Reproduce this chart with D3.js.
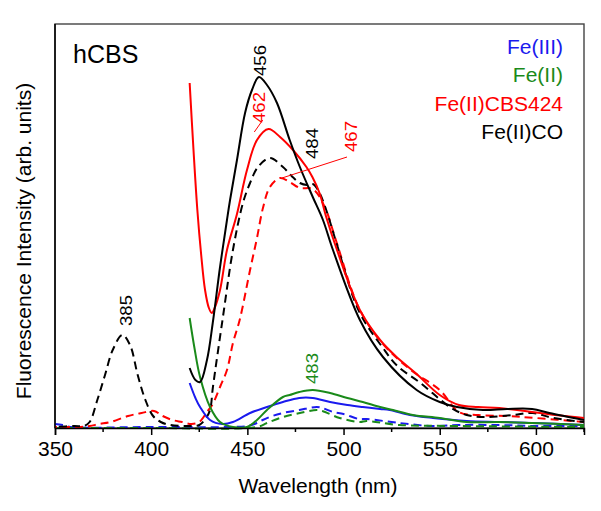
<!DOCTYPE html>
<html>
<head>
<meta charset="utf-8">
<script src="https://cdn.jsdelivr.net/npm/d3@7"></script>
<style>
  body { margin: 0; background: #fff; }
  text { font-family: "Liberation Sans", Arial, sans-serif; }
</style>
</head>
<body>
<div id="chart"></div>
<script>
// wavelength (nm), intensity (arb. units)
var feIIIsolid = [[420,45],[423,30],[425.4,21],[430.6,8],[437,4],[442.5,6],[451.4,15],[460.2,21],[468.5,26],[477,30],[484,30],[493,26],[502,23],[510,21],[519,19],[524,18],[534.5,13],[546.5,10],[564,7],[581,6],[598,5],[625,3]];
var feIIsolid = [[420,110],[422.5,80],[425.4,51],[430.6,21],[435.8,6],[442.5,1],[449.8,1],[455,8],[460.2,18],[468.5,31],[472,33],[477,36],[484,38],[493,35],[502,30],[510,26],[519,21],[525.7,18],[536,13],[550,10],[564,6],[581,6],[598,5],[625,3]];
var cbsSolid = [[420,345],[422,278],[424,218],[426,173],[428,138],[430,120],[431.5,115],[433,120],[435.8,138],[439.4,178],[444.6,214],[449.8,258],[455,288],[461,299],[467,291],[473.7,278],[480.7,261],[483.8,251],[487.5,235],[491,211],[496.6,178],[508.5,118],[519,88],[527,72],[538,54],[550,33],[560,23],[570,21],[581,20],[598,16],[610,13],[625,10]];
var coSolid = [[420,60],[423,48],[425.4,46],[429,68],[432,105],[435.8,161],[439.4,208],[441,228],[444.6,268],[448.8,315],[452.4,338],[456,351],[460.2,343],[465.4,325],[472,288],[477.3,261],[484,231],[489.3,208],[494.5,178],[508.5,108],[520.5,71],[538,38],[550,26],[559,21],[572.5,18],[585,19],[598,19],[607,15],[625,8]];

var feIIIdash = [[350,4],[354,3],[358,1],[400,1],[440,1],[450,2],[455,5],[458,8],[463,12],[468.5,15],[477,18],[486,21],[489,20],[494.5,16],[500,14],[508,9],[512,9],[529,5],[546,2],[560,3],[580,3],[600,2],[625,2]];
var feIIdash = [[350,0],[400,0],[455,1],[460.2,5],[468.5,11],[477.3,15],[486.2,18],[489,17],[498,10],[508.5,6],[512,7],[529,3],[560,2],[625,1]];
var cbsDash = [[350,1],[362,1],[368,2],[373,4],[379,6],[388,12],[395,15],[401.5,17],[406,12],[411,8],[416,6],[421,4],[425,6],[429,16],[432,24],[436,42],[439.4,58],[442.5,85],[446,108],[451.4,158],[455,190],[458.1,220],[461.7,241],[467,250],[472,246],[477.3,240],[484,239],[490,222],[496,188],[508,120],[520,85],[535,58],[550,38],[560,16],[570,13],[585,12],[600,10],[625,6]];
var coDash = [[350,1],[360,2],[365,2],[368,6],[372,28],[376,53],[380,78],[385,93],[389,83],[393,53],[397,28],[401,12],[405,6],[410,3],[420,2],[425,3],[428.5,10],[430.6,18],[432.1,41],[437.3,111],[442.5,178],[447.7,225],[451.4,245],[455.5,261],[461.7,270],[468.5,261],[473,252],[477.3,245],[481,243],[484,244],[487,237],[491,218],[496,187],[508,117],[520.5,80],[528,62],[540,45],[555.3,21],[564,13],[574.5,11],[588,13],[598.4,15],[609,10],[625,6]];

var xTicks = [350, 400, 450, 500, 550, 600];
var xMinor = [375, 425, 475, 525, 575, 625];
var legendNames = ['Fe(III)', 'Fe(II)', 'Fe(II)CBS424', 'Fe(II)CO'];

// peak labels: text, wavelength, intensity where text starts, colour index
var peakText = ['456', '462', '484', '467', '385', '483'];
var peakWl = [456.8, 456.3, 483.6, 504, 386.9, 483.6];
var peakVal = [352, 305, 269, 276, 102, 44];
var peakCol = [3, 2, 3, 2, 3, 1];

var colors = ['#1a1aee', '#1a8a1a', '#ff0000', '#000000'];

var width = 601, height = 511;
var x = d3.scaleLinear().domain([350, 625]).range([55, 584]);
var y = d3.scaleLinear().domain([0, 404]).range([428, 24]);

var svg = d3.select('#chart').append('svg')
  .attr('width', width)
  .attr('height', height);

// frame
svg.append('rect')
  .attr('x', x(350)).attr('y', y(404))
  .attr('width', x(625) - x(350)).attr('height', y(0) - y(404))
  .attr('fill', 'none').attr('stroke', '#444').attr('stroke-width', 1.4);

var line = d3.line()
  .x(function (d) { return x(d[0]); })
  .y(function (d) { return y(d[1]); })
  .curve(d3.curveCatmullRom.alpha(0.5));

var plot = svg.append('g');

var dashed = [feIIIdash, feIIdash, cbsDash, coDash];
dashed.forEach(function (s, i) {
  plot.append('path')
    .attr('d', line(s))
    .attr('fill', 'none')
    .attr('stroke', colors[i])
    .attr('stroke-width', 2)
    .attr('stroke-dasharray', '8,5')
    .attr('stroke-dashoffset', i * 3);
});

var solids = [feIIIsolid, feIIsolid, cbsSolid, coSolid];
solids.forEach(function (s, i) {
  plot.append('path')
    .attr('d', line(s))
    .attr('fill', 'none')
    .attr('stroke', colors[i])
    .attr('stroke-width', 2);
});

// leader lines
plot.append('line')
  .attr('x1', x(453.6)).attr('y1', y(296))
  .attr('x2', x(458)).attr('y2', y(308))
  .attr('stroke', colors[2]).attr('stroke-width', 1);
plot.append('line')
  .attr('x1', x(501.8)).attr('y1', y(271))
  .attr('x2', x(468)).attr('y2', y(250))
  .attr('stroke', colors[2]).attr('stroke-width', 1);

peakText.forEach(function (t, i) {
  svg.append('text')
    .attr('transform', 'translate(' + x(peakWl[i]) + ',' + y(peakVal[i]) + ') rotate(-90)')
    .attr('dy', '0.36em')
    .attr('font-size', 16)
    .attr('textLength', 31)
    .attr('lengthAdjust', 'spacingAndGlyphs')
    .attr('fill', colors[peakCol[i]])
    .text(t);
});

// x axis
var axis = d3.axisBottom(x).tickValues(xTicks).tickSize(7).tickPadding(6);
var gx = svg.append('g')
  .attr('transform', 'translate(0,' + y(0) + ')')
  .call(axis);
gx.select('.domain').attr('stroke-width', 1.5);
gx.selectAll('.tick line').attr('stroke-width', 1.5);
gx.selectAll('.tick text')
  .attr('font-size', 21)
  .attr('font-family', '"Liberation Sans", Arial, sans-serif')
  .attr('fill', '#000');

gx.selectAll('.minor')
  .data(xMinor)
  .enter().append('line')
  .attr('x1', function (d) { return x(d); })
  .attr('x2', function (d) { return x(d); })
  .attr('y1', 0).attr('y2', 4)
  .attr('stroke', '#000').attr('stroke-width', 1.5);

// left axis line
svg.append('line')
  .attr('x1', x(350)).attr('x2', x(350))
  .attr('y1', y(0)).attr('y2', y(404))
  .attr('stroke', '#000').attr('stroke-width', 1.5);

svg.append('text')
  .attr('x', 318).attr('y', 493)
  .attr('text-anchor', 'middle')
  .attr('font-size', 21)
  .text('Wavelength (nm)');

svg.append('text')
  .attr('transform', 'translate(31,241) rotate(-90)')
  .attr('text-anchor', 'middle')
  .attr('font-size', 21)
  .text('Fluorescence Intensity (arb. units)');

svg.append('text')
  .attr('x', 73).attr('y', 63)
  .attr('font-size', 25)
  .text('hCBS');

legendNames.forEach(function (n, i) {
  svg.append('text')
    .attr('x', 563).attr('y', 54 + i * 28.4)
    .attr('text-anchor', 'end')
    .attr('font-size', 21)
    .attr('fill', colors[i])
    .text(n);
});
</script>
</body>
</html>
